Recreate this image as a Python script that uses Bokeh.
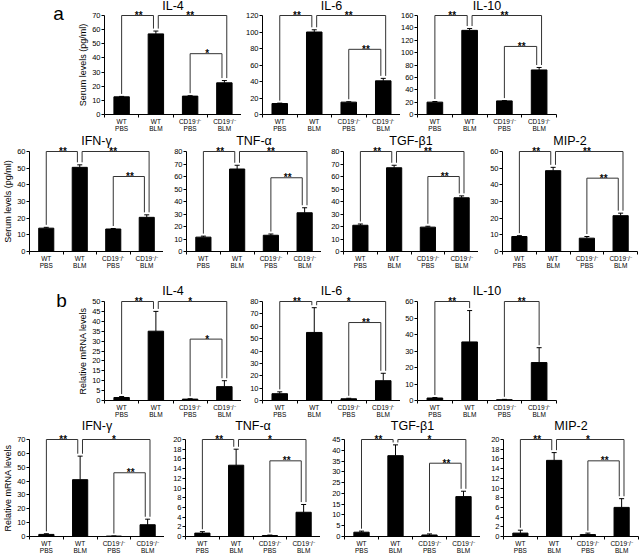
from bokeh.plotting import figure
from bokeh.layouts import row, column
from bokeh.models import Range1d, FixedTicker, Whisker, TeeHead, ColumnDataSource, Label
from bokeh.core.properties import value
from bokeh.embed import file_html
from bokeh.resources import INLINE

FONT = "Liberation Sans"

# ---------------- data ----------------
groups = ["WT\nPBS", "WT\nBLM", "CD19\u207b/\u207b\nPBS", "CD19\u207b/\u207b\nBLM"]
cytokines = ["IL-4", "IL-6", "IL-10", "IFN-\u03b3", "TNF-\u03b1", "TGF-\u03b21", "MIP-2"]

# (a) serum levels (pg/ml)
serum_mean = [
    [12.5, 57, 13, 22.4],
    [13.3, 100, 15, 40.8],
    [20, 136, 22, 72],
    [14, 50.5, 13.5, 20.5],
    [11.5, 66, 13, 31],
    [21, 67, 19.5, 43],
    [9, 48.5, 8, 21.5],
]
serum_err = [
    [0.3, 2, 0.3, 1.6],
    [0.5, 2.7, 0.5, 3],
    [1, 3, 0.5, 4],
    [0.5, 1.5, 0.3, 1.5],
    [0.8, 3, 1, 4],
    [1, 2, 0.7, 1.5],
    [0.5, 2, 1, 1.5],
]
serum_ymax = [70, 120, 160, 60, 80, 80, 60]
serum_step = [10, 20, 20, 10, 10, 10, 10]
serum_brackets = [
    [(0, 1, 70, "**"), (1, 3, 70, "**"), (2, 3, 43, "*")],
    [(0, 1, 120, "**"), (1, 3, 120, "**"), (2, 3, 79, "**")],
    [(0, 1, 160, "**"), (1, 3, 160, "**"), (2, 3, 110, "**")],
    [(0, 1, 60, "**"), (1, 3, 60, "**"), (2, 3, 45, "**")],
    [(0, 1, 80, "**"), (1, 3, 80, "**"), (2, 3, 59, "**")],
    [(0, 1, 80, "**"), (1, 3, 80, "**"), (2, 3, 60, "**")],
    [(0, 1, 60, "**"), (1, 3, 60, "**"), (2, 3, 44, "**")],
]

# (b) relative mRNA levels
mrna_mean = [
    [1.5, 35, 0.7, 7],
    [5.5, 55, 1.4, 16],
    [1.5, 35.5, 0.5, 23],
    [1.5, 41, 0.3, 8.5],
    [0.7, 14.7, 0.2, 5],
    [2, 37.5, 0.7, 18.5],
    [0.7, 15.7, 0.4, 6],
]
mrna_err = [
    [0.5, 10, 0.2, 3],
    [1.5, 20, 0.4, 6],
    [0.3, 19, 0.2, 9],
    [0.5, 17, 0.1, 4],
    [0.3, 3.3, 0.1, 1.6],
    [0.5, 5, 0.5, 2.5],
    [0.6, 1.6, 0.3, 1.8],
]
mrna_ymax = [50, 80, 60, 70, 20, 45, 20]
mrna_step = [5, 10, 10, 10, 2, 5, 2]
mrna_brackets = [
    [(0, 1, 50, "**"), (1, 3, 50, "*"), (2, 3, 31, "*")],
    [(0, 1, 80, "**"), (1, 3, 80, "*"), (2, 3, 63, "**")],
    [(0, 1, 60, "**"), (2, 3, 60, "**")],
    [(0, 1, 70, "**"), (1, 3, 70, "*"), (2, 3, 46, "**")],
    [(0, 1, 20, "**"), (1, 3, 20, "*"), (2, 3, 15.6, "**")],
    [(0, 1, 45, "**"), (1, 3, 45, "*"), (2, 3, 34, "**")],
    [(0, 1, 20, "**"), (1, 3, 20, "*"), (2, 3, 15.6, "**")],
]

# ---------------- layout geometry (page pixels) ----------------
# (row top, title centre, top tick, zero line, row bottom)
ROWS = [
    (0, 5, 15, 114, 134),
    (134, 140, 151, 251, 284),
    (284, 290, 301, 400, 419),
    (419, 425, 439, 536, 553),
]
# per panel: (figure left, frame left, frame right, figure right)
COLS3 = [(0, 104, 241, 241), (241, 262, 400, 400), (400, 417, 556, 639)]
COLS4a = [(0, 29, 163, 163), (163, 186, 321, 321), (321, 343, 478, 478), (478, 502, 637, 639)]
COLS4b = [(0, 29, 164, 164), (164, 185, 320, 320), (320, 344, 480, 480), (480, 503, 638, 639)]


def make_panel(title, mean, err, ymax, step, brackets, ylabel, cols, rowg, tag=None):
    L, FL, FR, R = cols
    y0, ty, top, zero, y1 = rowg
    ppx = 4.0 / (FR - FL)
    ppy = ymax / float(zero - top)
    x_start = -(FL - L) * ppx
    x_end = 4 + (R - FR) * ppx
    y_start = -(y1 - zero) * ppy
    y_end = ymax + (top - y0) * ppy

    p = figure(width=R - L, height=y1 - y0,
               min_border_left=0, min_border_right=0,
               min_border_top=0, min_border_bottom=0, min_border=0,
               x_range=Range1d(x_start, x_end), y_range=Range1d(y_start, y_end),
               toolbar_location=None, tools="", output_backend="svg")
    p.outline_line_color = None
    p.grid.visible = False
    p.background_fill_color = "white"
    p.border_fill_color = "white"

    xs = [i + 0.5 for i in range(4)]
    upper = [m + e for m, e in zip(mean, err)]
    src = ColumnDataSource(dict(x=xs, top=mean, upper=upper))
    p.vbar(x="x", top="top", bottom=0, width=0.45, source=src,
           fill_color="black", line_color="black")
    p.add_layout(Whisker(source=src, base="x", lower="top", upper="upper",
                         dimension="height", line_color="black", line_width=1,
                         upper_head=TeeHead(size=5, line_color="black", line_width=1),
                         lower_head=None))

    # significance brackets
    gap = 0.025 * ymax
    off = 0.07
    bx, by, lx, ly, lt = [], [], [], [], []
    for (i, j, lev, lab) in brackets:
        oi = 0.0
        oj = 0.0
        for (a, b, lv, _) in brackets:
            if (a, b) == (i, j):
                continue
            if b == i:
                oi = off
            if a == j:
                oj = -off
            if b == j:
                oj = off if lev > lv else -off
        xi = i + 0.5 + oi
        xj = j + 0.5 + oj
        bx.append([xi, xi, xj, xj])
        by.append([upper[i] + gap, lev, lev, upper[j] + gap])
        lx.append((i + j + 1) / 2)
        ly.append(lev)
        lt.append(lab)
    p.multi_line(bx, by, line_color="#333333", line_width=1)
    p.text(x=lx, y=ly, text=lt, text_align="center", text_baseline="middle",
           text_font=value(FONT), text_font_size="10px", text_font_style="bold",
           text_color="black", text_alpha=0.99)

    # title
    p.add_layout(Label(x=2, y=ymax + (top - ty) * ppy,
                       text=title, text_align="center", text_baseline="middle",
                       text_font=FONT, text_font_size="12.5px", text_color="black"))
    if tag is not None:
        t, tx, tyy = tag
        p.add_layout(Label(x=(tx - FL) * ppx, y=ymax + (top - tyy) * ppy,
                           text=t, text_align="center", text_baseline="middle",
                           text_font=FONT, text_font_size="19px", text_color="black"))

    # x axis (drawn at y = 0 inside the canvas)
    xa = p.xaxis[0]
    xa.fixed_location = 0
    xa.bounds = (0, 4)
    xa.ticker = FixedTicker(ticks=xs, minor_ticks=[0, 1, 2, 3, 4])
    xa.major_label_overrides = {x: g for x, g in zip(xs, groups)}
    xa.major_tick_out = 0
    xa.major_tick_in = 0
    xa.minor_tick_out = 3
    xa.minor_tick_in = 0
    xa.axis_line_color = "black"
    xa.minor_tick_line_color = "black"
    xa.major_label_text_font = FONT
    xa.major_label_text_font_size = "6.5px"
    xa.major_label_text_line_height = 1.05
    xa.major_label_standoff = 0
    xa.major_label_text_color = "black"

    # y axis (drawn at x = 0 inside the canvas)
    ya = p.yaxis[0]
    ya.fixed_location = 0
    ya.ticker = FixedTicker(ticks=list(range(0, ymax + step, step)), minor_ticks=[])
    ya.bounds = (0, ymax)
    ya.major_tick_out = 3
    ya.major_tick_in = 0
    ya.axis_line_color = "black"
    ya.major_tick_line_color = "black"
    ya.major_label_text_font = FONT
    ya.major_label_text_font_size = "7.5px"
    ya.major_label_standoff = 1
    ya.major_label_text_color = "black"
    if ylabel:
        ya.axis_label = ylabel
        ya.axis_label_text_font = FONT
        ya.axis_label_text_font_size = "9px"
        ya.axis_label_text_font_style = "normal"
        ya.axis_label_standoff = 1
        ya.axis_label_text_color = "black"
    return p


rows = []
r = []
for k, idx in enumerate([0, 1, 2]):
    r.append(make_panel(cytokines[idx], serum_mean[idx], serum_err[idx], serum_ymax[idx],
                        serum_step[idx], serum_brackets[idx],
                        "Serum levels (pg/ml)" if k == 0 else None, COLS3[k], ROWS[0],
                        tag=("a", 58, 13) if k == 0 else None))
rows.append(row(*r))
r = []
for k, idx in enumerate([3, 4, 5, 6]):
    r.append(make_panel(cytokines[idx], serum_mean[idx], serum_err[idx], serum_ymax[idx],
                        serum_step[idx], serum_brackets[idx],
                        "Serum levels (pg/ml)" if k == 0 else None, COLS4a[k], ROWS[1]))
rows.append(row(*r))
r = []
for k, idx in enumerate([0, 1, 2]):
    r.append(make_panel(cytokines[idx], mrna_mean[idx], mrna_err[idx], mrna_ymax[idx],
                        mrna_step[idx], mrna_brackets[idx],
                        "Relative mRNA levels" if k == 0 else None, COLS3[k], ROWS[2],
                        tag=("b", 61, 300) if k == 0 else None))
rows.append(row(*r))
r = []
for k, idx in enumerate([3, 4, 5, 6]):
    r.append(make_panel(cytokines[idx], mrna_mean[idx], mrna_err[idx], mrna_ymax[idx],
                        mrna_step[idx], mrna_brackets[idx],
                        "Relative mRNA levels" if k == 0 else None, COLS4b[k], ROWS[3]))
rows.append(row(*r))

layout = column(*rows)
open("out.html", "w").write(file_html(layout, INLINE))
